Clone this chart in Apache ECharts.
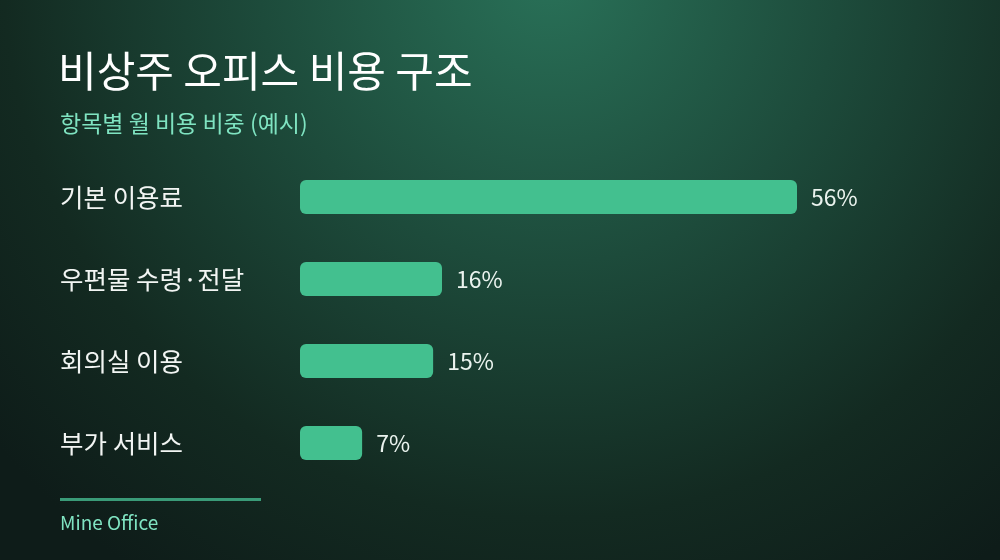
<!DOCTYPE html>
<html><head><meta charset="utf-8">
<script src="https://cdn.jsdelivr.net/npm/echarts@6/dist/echarts.min.js"></script>
<style>html,body{margin:0;padding:0;width:1000px;height:560px;overflow:hidden;background:#13281f}#c{width:1000px;height:560px}</style>
</head><body><div id="c"></div>
<script>
const titleText = '비상주 오피스 비용 구조';
const subtitleText = '항목별 월 비용 비중 (예시)';
const sourceText = 'Mine Office';
const categories = ['기본 이용료', '우편물 수령·전달', '회의실 이용', '부가 서비스'];
const values = [56, 16, 15, 7];

const chart = echarts.init(document.getElementById('c'));
const FONT = '"Noto Sans CJK KR", "Noto Sans", sans-serif';
chart.setOption({
  backgroundColor: {
    type: 'radial', x: 0.55, y: -0.05, r: 1.3,
    colorStops: [
      { offset: 0, color: '#297158' },
      { offset: 0.4, color: '#1d4b3b' },
      { offset: 0.75, color: '#132a21' },
      { offset: 1, color: '#0e1c19' }
    ]
  },
  title: [
    { text: titleText, left: 58, top: 50, padding: 0, textStyle: { color: '#ffffff', fontSize: 42, fontWeight: 'normal', fontFamily: FONT } },
    { text: subtitleText, left: 60, top: 112, padding: 0, textStyle: { color: '#7fe3c1', fontSize: 23, fontWeight: 'normal', fontFamily: FONT } },
    { text: sourceText, left: 60, top: 513, padding: 0, textStyle: { color: '#7fe3c1', fontSize: 19, fontWeight: 'normal', fontFamily: FONT } }
  ],
  graphic: [
    { type: 'rect', shape: { x: 60, y: 498, width: 201, height: 3 }, style: { fill: '#3a9b78' } }
  ],
  grid: { left: 300, top: 156, width: 497, height: 328, containLabel: false },
  xAxis: { type: 'value', min: 0, max: Math.max(...values), show: false },
  yAxis: {
    type: 'category', data: categories, inverse: true,
    axisLine: { show: false }, axisTick: { show: false }, splitLine: { show: false },
    axisLabel: { color: '#f2f5f3', fontSize: 25.5, fontFamily: FONT, align: 'left', margin: 240 }
  },
  series: [{
    type: 'bar', data: values, barWidth: 34,
    itemStyle: { color: '#43c08f', borderRadius: 6 },
    label: { show: true, position: 'right', distance: 14, formatter: '{c}%', color: '#eaf3ee', fontSize: 23, fontFamily: FONT }
  }]
});
</script></body></html>
